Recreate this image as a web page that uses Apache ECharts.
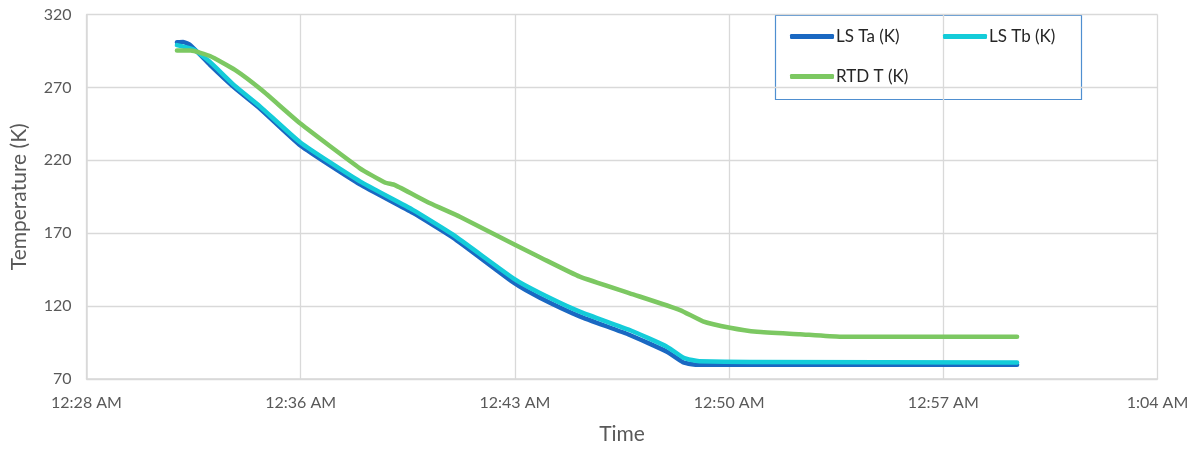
<!DOCTYPE html>
<html>
<head>
<meta charset="utf-8">
<script src="https://cdn.jsdelivr.net/npm/echarts@6/dist/echarts.min.js"></script>
<style>
html,body{margin:0;padding:0;background:#fff;}
#chart{width:1198px;height:451px;}
</style>
</head>
<body>
<div id="chart"></div>
<script>
// minutes after 12:28 AM
const xTickLabels = ['12:28 AM','12:36 AM','12:43 AM','12:50 AM','12:57 AM','1:04 AM'];
const yTicks = [70,120,170,220,270,320];

const taTime = [3.04,3.25,3.50,4.15,4.99,5.83,7.20,9.19,10.97,12.32,14.40,15.24,16.58,18.26,19.51,20.05,20.35,20.60,31.28];
const taVal  = [300.9,301.2,298.8,285.5,269.5,255.5,230,203.5,184,167,135.5,125.8,113,100.2,88.7,81.5,80.1,79.7,79.7];

const tbTime = [3.04,3.60,4.15,4.99,5.83,7.20,9.19,10.97,12.32,14.40,15.24,16.58,18.26,19.51,20.05,20.35,20.60,22.30,31.28];
const tbVal  = [299,296,287.5,271,257,232,205.5,186,169,138.3,129,116.2,103.6,92.2,84.8,83,82.2,81.7,81.4];

const rtdTime = [3.04,3.50,4.15,4.99,5.90,7.20,9.19,10.03,10.37,11.55,12.55,14.40,15.24,16.58,18.26,19.95,20.72,21.63,22.54,23.98,25.32,31.28];
const rtdVal  = [295.3,295.3,291.5,282,268,245,214.5,204.8,203,190.5,181.3,162,153.5,140.2,128.8,117.3,109.6,105.2,102.4,100.7,99,99];

const seriesNames = ['LS Ta (K)','LS Tb (K)','RTD T (K)'];
const colors = ['#1A68C2','#14CCD9','#7CC862'];

const zip = (a,b) => a.map((t,i)=>[t,b[i]]);
const seriesData = [zip(taTime,taVal), zip(tbTime,tbVal), zip(rtdTime,rtdVal)];

const font = 'Lato, "Open Sans", sans-serif';
const chart = echarts.init(document.getElementById('chart'));

const legendPos = [[790,28],[943,28],[790,68]];

chart.setOption({
  animation:false,
  textStyle:{fontFamily:font},
  grid:{left:86.5,right:40.5,top:14.5,bottom:72,containLabel:false},
  xAxis:{
    type:'value', min:0, max:36, interval:7.2,
    name:'Time', nameLocation:'middle', nameGap:45,
    nameTextStyle:{color:'#595959',fontSize:21,fontFamily:font},
    axisLine:{show:true,lineStyle:{color:'#D9D9D9',width:1.5}},
    axisTick:{show:false},
    axisLabel:{color:'#595959',fontSize:16,margin:16,fontFamily:font,
      formatter:v=>xTickLabels[Math.round(v/7.2)]},
    splitLine:{show:true,lineStyle:{color:'#D9D9D9',width:1.3}}
  },
  yAxis:{
    type:'value', min:yTicks[0], max:yTicks[yTicks.length-1], interval:50,
    name:'Temperature (K)', nameLocation:'middle', nameGap:57, nameRotate:90,
    nameTextStyle:{color:'#595959',fontSize:21,fontFamily:font},
    axisLine:{show:true,lineStyle:{color:'#D9D9D9',width:1.5}},
    axisTick:{show:false},
    axisLabel:{color:'#595959',fontSize:16,margin:15,fontFamily:font},
    splitLine:{show:true,lineStyle:{color:'#D9D9D9',width:1.3}}
  },
  legend: seriesNames.map((n,i)=>({
    data:[n], left:legendPos[i][0], top:legendPos[i][1],
    icon:'roundRect', itemWidth:44, itemHeight:5, itemGap:0, padding:0,
    textStyle:{color:'#262626',fontSize:17,fontFamily:font,padding:[0,0,0,-3]}
  })),
  graphic:[{type:'rect',shape:{x:775.5,y:15.5,width:306,height:84},
    style:{fill:'#fff',stroke:'#4F8FD0',lineWidth:1.2},z:-1}],
  series: seriesNames.map((n,i)=>({
    name:n, type:'line', data:seriesData[i],
    showSymbol:false, symbol:'none', smooth:0.15,
    lineStyle:{color:colors[i],width:4.5,cap:'round',join:'round'},
    itemStyle:{color:colors[i]}
  }))
});
</script>
</body>
</html>
